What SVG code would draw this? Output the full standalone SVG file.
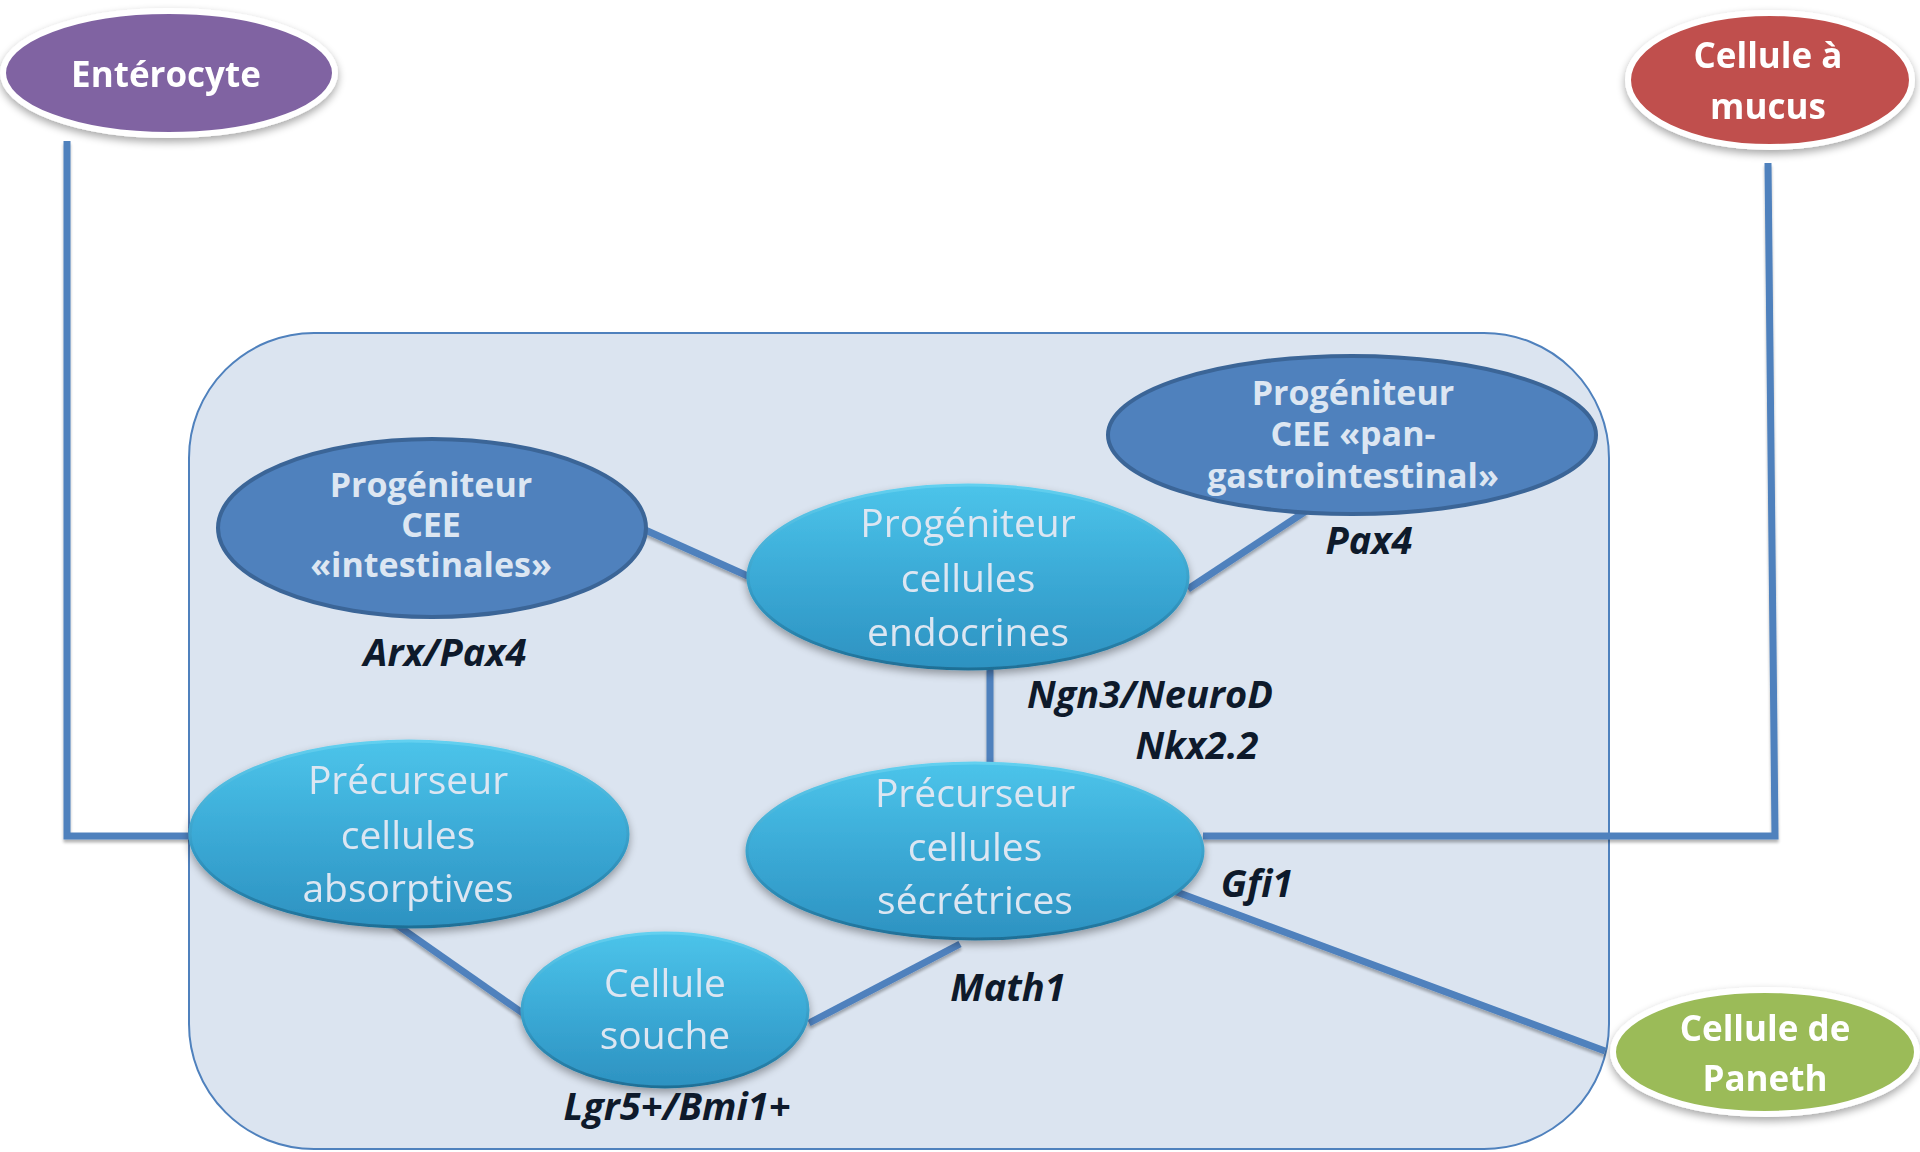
<svg xmlns="http://www.w3.org/2000/svg" width="1920" height="1152" viewBox="0 0 1920 1152">
  <defs>
    <linearGradient id="cyanFill" x1="0" y1="0" x2="0" y2="1">
      <stop offset="0" stop-color="#4CC4EA"/>
      <stop offset="0.5" stop-color="#3BAAD6"/>
      <stop offset="1" stop-color="#2D92C1"/>
    </linearGradient>
    <linearGradient id="cyanEdge" x1="0" y1="0" x2="0" y2="1">
      <stop offset="0" stop-color="#62D0F0"/>
      <stop offset="0.6" stop-color="#3399C4"/>
      <stop offset="1" stop-color="#1F6F96"/>
    </linearGradient>
    <filter id="softShadow" x="-20%" y="-20%" width="140%" height="150%">
      <feGaussianBlur in="SourceAlpha" stdDeviation="4"/>
      <feOffset dx="0" dy="4" result="b"/>
      <feComponentTransfer><feFuncA type="linear" slope="0.35"/></feComponentTransfer>
      <feMerge><feMergeNode/><feMergeNode in="SourceGraphic"/></feMerge>
    </filter>
    <filter id="lineShadow" x="-5%" y="-5%" width="110%" height="110%">
      <feGaussianBlur in="SourceAlpha" stdDeviation="1.5"/>
      <feOffset dx="0" dy="3"/>
      <feComponentTransfer><feFuncA type="linear" slope="0.3"/></feComponentTransfer>
      <feMerge><feMergeNode/><feMergeNode in="SourceGraphic"/></feMerge>
    </filter>
  </defs>
  <style>
    .frame { fill: #DBE4F0; stroke: #4F81BD; stroke-width: 2; }
    .link { fill: none; stroke: #4F81BD; stroke-width: 7; }
    .outer { stroke: #FFFFFF; stroke-width: 6; }
    .dark { fill: #4F81BD; stroke: #3B6597; stroke-width: 4; }
    .cyan { fill: url(#cyanFill); stroke: url(#cyanEdge); stroke-width: 3; }
    .tb { font-family: "Open Sans", "Liberation Sans", sans-serif; font-weight: bold; text-anchor: middle; }
    .tr { font-family: "Open Sans", "Liberation Sans", sans-serif; text-anchor: middle; fill: #DCE6F2; font-size: 39px; }
    .white { fill: #FFFFFF; font-size: 35px; }
    .pale { fill: #DCE6F2; font-size: 34px; }
    .gene { font-family: "Open Sans", "Liberation Sans", sans-serif; font-weight: bold; font-style: italic; fill: #0E1A2B; font-size: 38px; text-anchor: middle; }
  </style>

  <!-- container -->
  <rect class="frame" x="189" y="333" width="1420" height="816" rx="125" ry="125"/>

  <!-- connectors -->
  <g id="connectors" filter="url(#lineShadow)">
    <polyline class="link" points="67,141 67,836 190,836"/>
    <polyline class="link" points="1768,163 1775,836 1203,836"/>
    <line class="link" x1="1174" y1="891" x2="1605" y2="1051"/>
    <line class="link" x1="643" y1="529" x2="750" y2="577"/>
    <line class="link" x1="1188" y1="589" x2="1306" y2="511"/>
    <line class="link" x1="990" y1="668" x2="990" y2="764"/>
    <line class="link" x1="387" y1="918" x2="524" y2="1014"/>
    <line class="link" x1="809" y1="1023" x2="960" y2="944"/>
  </g>

  <!-- outer cell types -->
  <g id="enterocyte" filter="url(#softShadow)">
    <ellipse class="outer" cx="169" cy="73" rx="166" ry="62" fill="#8064A2"/>
    <text class="tb white" x="166" y="87">Entérocyte</text>
  </g>
  <g id="mucus" filter="url(#softShadow)">
    <ellipse class="outer" cx="1770" cy="80" rx="142" ry="67" fill="#C0504D"/>
    <text class="tb white" x="1768" y="68">Cellule à</text>
    <text class="tb white" x="1768" y="119">mucus</text>
  </g>
  <g id="paneth" filter="url(#softShadow)">
    <ellipse class="outer" cx="1765" cy="1052" rx="152" ry="62" fill="#9BBB59"/>
    <text class="tb white" x="1765" y="1041">Cellule de</text>
    <text class="tb white" x="1765" y="1091">Paneth</text>
  </g>

  <!-- enteroendocrine progenitors -->
  <g id="cee-intestinales">
    <ellipse class="dark" cx="432" cy="528" rx="214" ry="89"/>
    <text class="tb pale" x="431" y="497">Progéniteur</text>
    <text class="tb pale" x="431" y="537">CEE</text>
    <text class="tb pale" x="431" y="577">«intestinales»</text>
  </g>
  <g id="cee-pan">
    <ellipse class="dark" cx="1352" cy="435" rx="244" ry="79"/>
    <text class="tb pale" x="1353" y="405">Progéniteur</text>
    <text class="tb pale" x="1353" y="446">CEE «pan-</text>
    <text class="tb pale" x="1353" y="488">gastrointestinal»</text>
  </g>

  <!-- lineage precursors -->
  <g id="endocrine" filter="url(#softShadow)">
    <ellipse class="cyan" cx="968" cy="577" rx="220" ry="92"/>
    <text class="tr" x="968" y="537">Progéniteur</text>
    <text class="tr" x="968" y="592">cellules</text>
    <text class="tr" x="968" y="646">endocrines</text>
  </g>
  <g id="absorptive" filter="url(#softShadow)">
    <ellipse class="cyan" cx="409" cy="834" rx="219" ry="93"/>
    <text class="tr" x="408" y="794">Précurseur</text>
    <text class="tr" x="408" y="849">cellules</text>
    <text class="tr" x="408" y="902">absorptives</text>
  </g>
  <g id="secretory" filter="url(#softShadow)">
    <ellipse class="cyan" cx="975" cy="851" rx="228" ry="88"/>
    <text class="tr" x="975" y="807">Précurseur</text>
    <text class="tr" x="975" y="861">cellules</text>
    <text class="tr" x="975" y="914">sécrétrices</text>
  </g>
  <g id="stem" filter="url(#softShadow)">
    <ellipse class="cyan" cx="665" cy="1010" rx="143" ry="77"/>
    <text class="tr" x="665" y="997">Cellule</text>
    <text class="tr" x="665" y="1049">souche</text>
  </g>

  <!-- transcription factor labels -->
  <g id="labels">
    <text class="gene" x="445" y="666">Arx/Pax4</text>
    <text class="gene" x="1369" y="554">Pax4</text>
    <text class="gene" x="1150" y="708">Ngn3/NeuroD</text>
    <text class="gene" x="1197" y="759">Nkx2.2</text>
    <text class="gene" x="1257" y="897">Gfi1</text>
    <text class="gene" x="1008" y="1001">Math1</text>
    <text class="gene" x="677" y="1120">Lgr5+/Bmi1+</text>
  </g>
</svg>
